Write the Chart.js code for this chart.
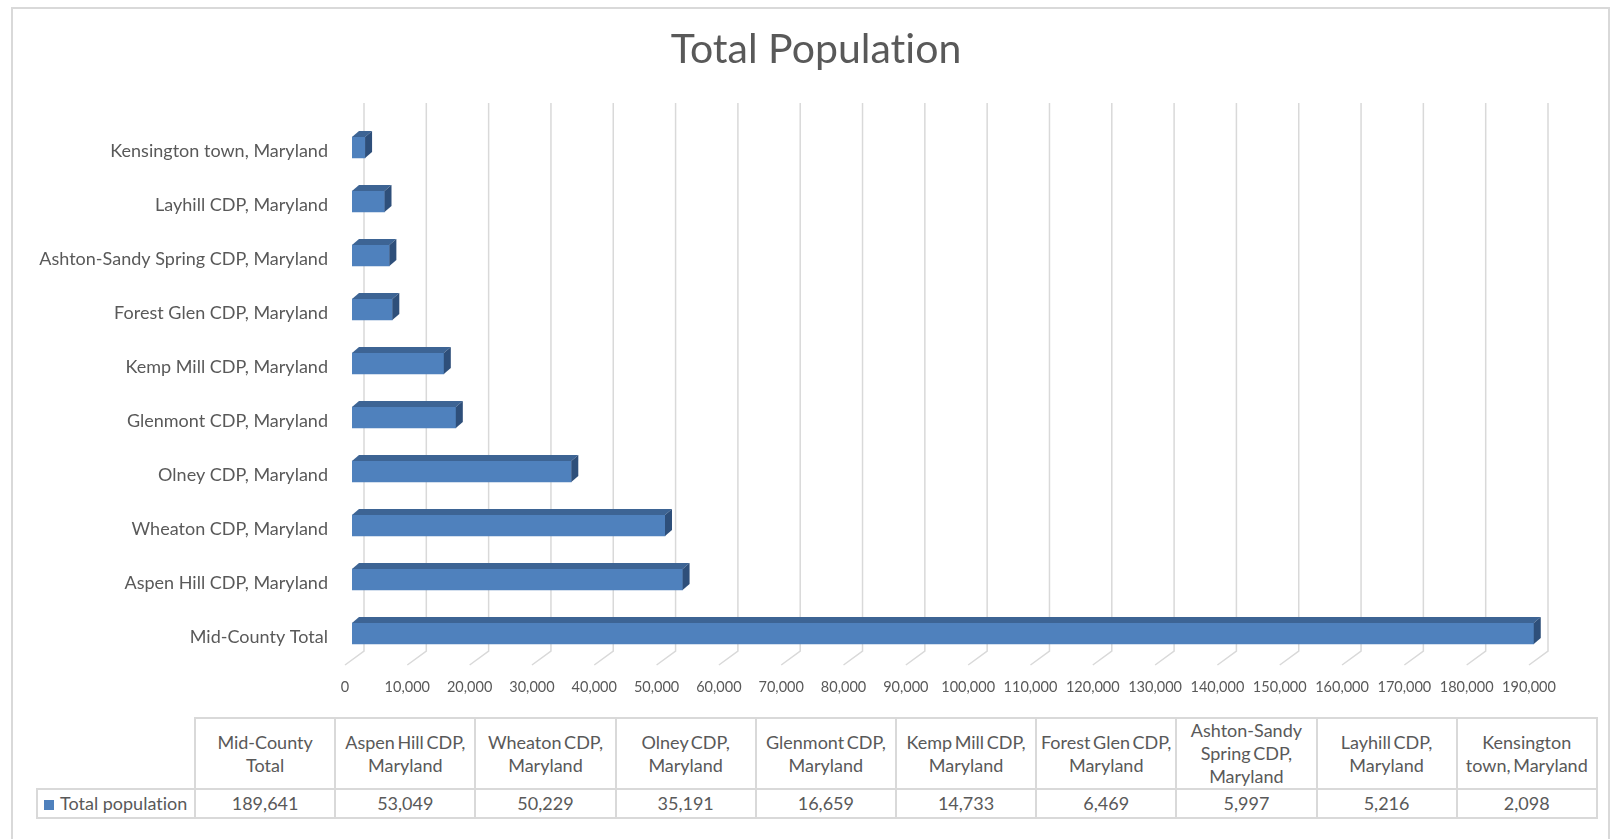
<!DOCTYPE html>
<html>
<head>
<meta charset="utf-8">
<script src="https://cdn.jsdelivr.net/npm/chart.js@4.4.1/dist/chart.umd.min.js"></script>
<style>
  html, body { margin: 0; padding: 0; background: #fff; }
  body { width: 1620px; height: 839px; position: relative; overflow: hidden; font-family: Lato, "Open Sans", sans-serif; color: #595959; }
  #frame { position: absolute; left: 11px; top: 7px; width: 1599px; height: 900px; border: 2px solid #d9d9d9; box-sizing: border-box; }
  #wrap { position: absolute; left: 0; top: 0; width: 1620px; height: 700px; }
  #tbl { position: absolute; left: 36px; top: 717px; border-collapse: collapse; table-layout: fixed; font-size: 18px; line-height: 23px; color: #595959; font-variant-ligatures: none; }
  #tbl td { border: 2px solid #d9d9d9; text-align: center; vertical-align: middle; padding: 0 3px; overflow: hidden; }
  #tbl tr.head td { height: 67px; word-spacing: -2px; }
  #tbl tr.vals td { height: 27px; }
  #tbl td.blank { border: none; border-bottom: 2px solid #d9d9d9; }
  #tbl td.key { text-align: left; padding-left: 6px; white-space: nowrap; }
  .sw { display: inline-block; width: 10px; height: 10px; background: #4f81bd; margin-right: 6px; vertical-align: 0px; }
</style>
</head>
<body>
<div id="frame"></div>
<div id="wrap"><canvas id="c"></canvas></div>
<table id="tbl"></table>
<script>
// ---- data ----
const categories = [
  "Mid-County Total",
  "Aspen Hill CDP, Maryland",
  "Wheaton CDP, Maryland",
  "Olney CDP, Maryland",
  "Glenmont CDP, Maryland",
  "Kemp Mill CDP, Maryland",
  "Forest Glen CDP, Maryland",
  "Ashton-Sandy Spring CDP, Maryland",
  "Layhill CDP, Maryland",
  "Kensington town, Maryland"
];
const populations = [189641, 53049, 50229, 35191, 16659, 14733, 6469, 5997, 5216, 2098];
const seriesName = "Total population";
const chartTitle = "Total Population";
const axisMin = 0;
const axisMax = 190000;
const axisStep = 10000;

const fmt = v => Number(v).toLocaleString("en-US");

// ---- data table ----
(function buildTable() {
  const tbl = document.getElementById("tbl");
  const cg = document.createElement("colgroup");
  const c0 = document.createElement("col"); c0.style.width = "158px"; cg.appendChild(c0);
  categories.forEach(() => { const c = document.createElement("col"); c.style.width = "140.2px"; cg.appendChild(c); });
  tbl.appendChild(cg);
  const head = document.createElement("tr"); head.className = "head";
  const b = document.createElement("td"); b.className = "blank"; head.appendChild(b);
  categories.forEach(name => { const td = document.createElement("td"); td.textContent = name; head.appendChild(td); });
  tbl.appendChild(head);
  const row = document.createElement("tr"); row.className = "vals";
  const k = document.createElement("td"); k.className = "key";
  const sw = document.createElement("span"); sw.className = "sw"; k.appendChild(sw);
  k.appendChild(document.createTextNode(seriesName));
  row.appendChild(k);
  populations.forEach(v => { const td = document.createElement("td"); td.textContent = fmt(v); row.appendChild(td); });
  tbl.appendChild(row);
})();

// ---- 3D-look helpers ----
const DEPTH_X = 7, DEPTH_Y = 6;
const noLigPlugin = {
  id: "noLig",
  beforeDraw(chart) {
    if ("letterSpacing" in chart.ctx) chart.ctx.letterSpacing = "0.01px";
  }
};
const gridPlugin = {
  id: "wallGrid",
  beforeDatasetsDraw(chart) {
    const xs = chart.scales.x, a = chart.chartArea, ctx = chart.ctx;
    ctx.save();
    ctx.strokeStyle = "#d9d9d9";
    ctx.lineWidth = 1.5;
    xs.ticks.forEach(t => {
      const px = xs.getPixelForValue(t.value);
      ctx.beginPath();
      ctx.moveTo(px + 12, a.top - 17.5);
      ctx.lineTo(px + 12, a.bottom - 9.5);
      ctx.lineTo(px - 7, a.bottom + 4.5);
      ctx.stroke();
    });
    ctx.restore();
  }
};
const bar3dPlugin = {
  id: "bar3d",
  afterDatasetsDraw(chart) {
    const ctx = chart.ctx;
    const meta = chart.getDatasetMeta(0);
    ctx.save();
    meta.data.forEach(el => {
      const p = el.getProps(["x", "y", "base", "height"], true);
      const top = p.y - p.height / 2, bot = p.y + p.height / 2;
      ctx.fillStyle = "#3d6494";
      ctx.beginPath();
      ctx.moveTo(p.base, top); ctx.lineTo(p.x, top);
      ctx.lineTo(p.x + DEPTH_X, top - DEPTH_Y); ctx.lineTo(p.base + DEPTH_X, top - DEPTH_Y);
      ctx.closePath(); ctx.fill();
      ctx.fillStyle = "#2e4f7a";
      ctx.beginPath();
      ctx.moveTo(p.x, top); ctx.lineTo(p.x + DEPTH_X, top - DEPTH_Y);
      ctx.lineTo(p.x + DEPTH_X, bot - DEPTH_Y); ctx.lineTo(p.x, bot);
      ctx.closePath(); ctx.fill();
    });
    ctx.restore();
  }
};

function draw() {
  new Chart(document.getElementById("c"), {
    type: "bar",
    data: {
      labels: categories,
      datasets: [{
        label: seriesName,
        data: populations,
        backgroundColor: "#4f81bd",
        borderWidth: 0,
        barThickness: 21
      }]
    },
    plugins: [noLigPlugin, gridPlugin, bar3dPlugin],
    options: {
      indexAxis: "y",
      responsive: true,
      maintainAspectRatio: false,
      animation: false,
      layout: { padding: { left: 12, right: 0, top: 0, bottom: 0 } },
      plugins: {
        legend: { display: false },
        tooltip: { enabled: false },
        title: {
          display: true,
          text: chartTitle,
          color: "#595959",
          font: { family: "Lato", size: 41, weight: "normal", lineHeight: 1.0 },
          padding: { top: 29.5, bottom: 50 }
        }
      },
      scales: {
        x: {
          type: "linear",
          min: axisMin,
          max: axisMax,
          grid: { display: false, drawTicks: false },
          border: { display: false },
          ticks: {
            stepSize: axisStep,
            autoSkip: false,
            maxRotation: 0,
            padding: 18,
            labelOffset: -7,
            color: "#595959",
            font: { family: "Lato", size: 14.5 },
            callback: v => fmt(v)
          },
          afterFit: s => { s.height = 39.5; }
        },
        y: {
          reverse: true,
          grid: { display: false, drawTicks: false },
          border: { display: false },
          ticks: {
            autoSkip: false,
            padding: 24,
            labelOffset: 4,
            color: "#595959",
            font: { family: "Lato", size: 18 }
          },
          afterFit: s => { s.width = 340; }
        },
        yRight: {
          type: "linear",
          position: "right",
          display: true,
          grid: { display: false, drawTicks: false },
          border: { display: false },
          ticks: { display: false },
          afterFit: s => { s.width = 84; }
        }
      }
    }
  });
}
Promise.all([
  document.fonts.load("18px Lato"),
  document.fonts.load("41px Lato")
]).catch(() => {}).then(draw);
</script>
</body>
</html>
